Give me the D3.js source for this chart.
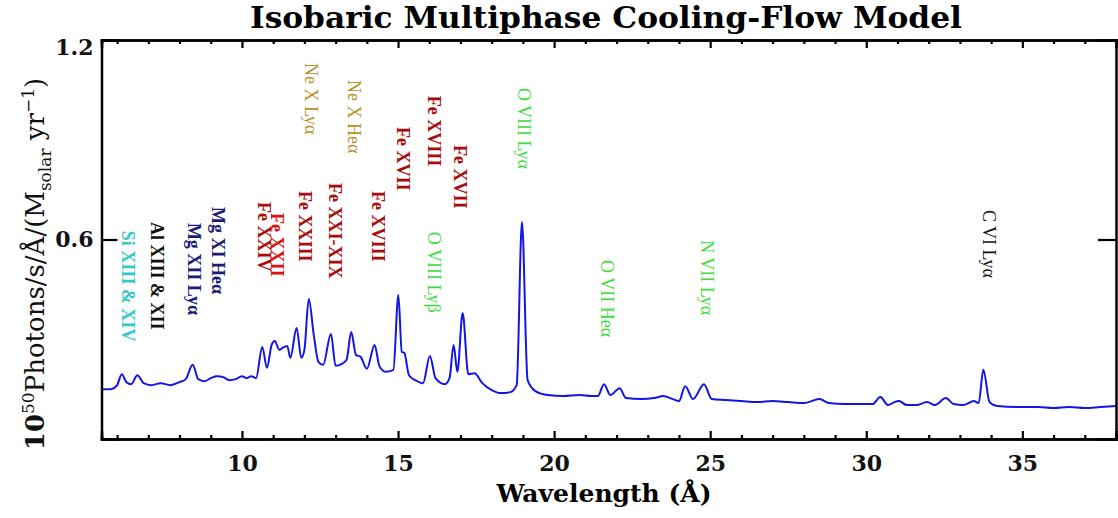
<!DOCTYPE html>
<html>
<head>
<meta charset="utf-8">
<script src="https://cdn.jsdelivr.net/npm/d3@7"></script>
<style>
  html, body { margin: 0; padding: 0; background: #fff; }
  svg { display: block; }
</style>
</head>
<body>
<svg id="chart" width="1118" height="518"></svg>
<script>
// ---------------- DATA ----------------
const wavelength = [5.5,5.8,6.0,6.15,6.3,6.45,6.65,6.85,7.1,7.4,7.7,8.0,8.2,8.42,8.6,8.8,9.0,9.2,9.4,9.6,9.8,10.0,10.15,10.3,10.45,10.65,10.8,10.95,11.05,11.2,11.3,11.45,11.55,11.75,11.9,12.0,12.14,12.3,12.45,12.6,12.85,13.0,13.2,13.35,13.5,13.65,13.8,14.0,14.25,14.4,14.6,14.85,15.01,15.12,15.2,15.35,15.55,15.8,16.02,16.2,16.5,16.65,16.78,16.9,17.07,17.25,17.45,17.7,18.0,18.3,18.6,18.8,18.97,19.15,19.4,19.8,20.3,20.8,21.2,21.4,21.6,21.8,22.1,22.3,22.8,23.2,23.5,23.8,24.0,24.2,24.45,24.8,25.05,25.5,26.0,26.5,27.0,27.5,28.0,28.5,28.8,29.3,29.8,30.2,30.45,30.7,30.9,31.05,31.3,31.6,31.95,32.2,32.55,32.8,33.1,33.45,33.6,33.75,33.95,34.2,34.8,35.5,36.0,36.5,37.0,37.5,38.0];
const photons = [0.150,0.150,0.162,0.195,0.171,0.165,0.192,0.168,0.162,0.168,0.162,0.171,0.180,0.223,0.180,0.174,0.183,0.189,0.186,0.177,0.180,0.189,0.183,0.189,0.183,0.277,0.214,0.283,0.295,0.268,0.274,0.280,0.244,0.334,0.244,0.268,0.421,0.313,0.232,0.223,0.316,0.220,0.226,0.238,0.322,0.253,0.247,0.211,0.283,0.220,0.202,0.208,0.433,0.262,0.259,0.192,0.177,0.168,0.250,0.183,0.165,0.183,0.283,0.202,0.379,0.195,0.198,0.168,0.147,0.138,0.141,0.162,0.653,0.177,0.144,0.132,0.129,0.132,0.129,0.129,0.165,0.132,0.153,0.123,0.120,0.123,0.129,0.120,0.114,0.159,0.120,0.165,0.120,0.117,0.114,0.111,0.114,0.111,0.108,0.120,0.108,0.105,0.105,0.105,0.126,0.102,0.111,0.114,0.102,0.102,0.111,0.102,0.123,0.105,0.102,0.114,0.108,0.208,0.111,0.099,0.096,0.096,0.093,0.096,0.093,0.096,0.099];

const xTickValues = [10, 15, 20, 25, 30, 35];
const yTickValues = [0.6, 1.2];
const yTickLabels = ["0.6", "1.2"];

const lineNames = ["Si XIII & XIV","Al XIII & XII","Mg XII Lyα","Mg XI Heα","Fe XXIV","Fe XXII","Fe XXIII","Fe XXI-XIX","Fe XVIII","Ne X Lyα","Ne X Heα","Fe XVII","Fe XVIII","Fe XVII","O VIII Lyβ","O VIII Lyα","O VII Heα","N VII Lyα","C VI Lyα"];
const lineWavelengths = [6.35,7.28,8.46,9.23,10.70,11.11,12.01,12.97,14.35,12.20,13.58,15.15,16.14,17.00,16.14,19.02,21.70,24.90,33.92];
const lineLabelTops = [0.626,0.653,0.650,0.698,0.713,0.680,0.746,0.770,0.746,1.131,1.080,0.938,1.032,0.884,0.623,1.056,0.538,0.598,0.689];
const lineGroups = ["Si","Al","Mg","Mg","Fe","FeB","Fe","Fe","Fe","Ne","Ne","Fe","Fe","Fe","O","O","O","N","C"];

// ---------------- STYLE ----------------
const groupColor = { Si: "#35c8c8", Al: "#111111", Mg: "#1c1c78", Fe: "#a80c0c", FeB: "#e01010", Ne: "#b3922a", O: "#3ddc3d", N: "#3ddc3d", C: "#111111" };
const groupWeight = { Si: "bold", Al: "bold", Mg: "bold", Fe: "bold", FeB: "bold", Ne: "normal", O: "normal", N: "normal", C: "normal" };

const svg = d3.select("#chart");
const W = 1118, H = 518;
const margin = { left: 101.5, right: W - 1116, top: 40, bottom: H - 439 };

const x = d3.scaleLinear().domain([5.5, 38]).range([margin.left, W - margin.right]);
const y = d3.scaleLinear().domain([0, 1.2]).range([H - margin.bottom, margin.top]);

const serif = "'DejaVu Serif', 'Liberation Serif', serif";
const labelSerif = "'Liberation Serif', 'DejaVu Serif', serif";

// Title
svg.append("text")
  .attr("x", 606).attr("y", 28)
  .attr("text-anchor", "middle")
  .attr("font-family", serif).attr("font-weight", "bold").attr("font-size", 29)
  .attr("textLength", 712).attr("lengthAdjust", "spacingAndGlyphs")
  .text("Isobaric Multiphase Cooling-Flow Model");

// Spectrum
const line = d3.line().x((d, i) => x(wavelength[i])).y(d => y(d)).curve(d3.curveMonotoneX);
svg.append("path")
  .datum(photons)
  .attr("d", line)
  .attr("fill", "none")
  .attr("stroke", "#1414e6")
  .attr("stroke-width", 2)
  .attr("stroke-linejoin", "round");

// Axes (frame + ticks)
const minorX = d3.range(6, 39, 1).filter(v => !xTickValues.includes(v));
const gBottom = svg.append("g").attr("transform", `translate(0,${y(0)})`);
gBottom.call(d3.axisBottom(x).tickValues(xTickValues).tickSize(-8).tickPadding(16).tickFormat(d3.format("d")));
gBottom.append("g").call(d3.axisBottom(x).tickValues(minorX).tickSize(-4).tickFormat(""));
const gTop = svg.append("g").attr("transform", `translate(0,${y(1.2)})`);
gTop.call(d3.axisTop(x).tickValues(xTickValues).tickSize(-8).tickFormat(""));
gTop.append("g").call(d3.axisTop(x).tickValues(minorX).tickSize(-4).tickFormat(""));
const gLeft = svg.append("g").attr("transform", `translate(${x(5.5)},0)`);
gLeft.call(d3.axisLeft(y).tickValues(yTickValues).tickSize(-16).tickPadding(8).tickFormat((d, i) => yTickLabels[i]));
const gRight = svg.append("g").attr("transform", `translate(${x(38)},0)`);
gRight.call(d3.axisRight(y).tickValues([0.6]).tickSize(-18).tickFormat(""));

svg.selectAll(".domain").attr("stroke", "#000").attr("stroke-width", 2.5);
svg.selectAll(".tick line").attr("stroke", "#000").attr("stroke-width", 2.2);
svg.selectAll(".tick text")
  .attr("font-family", serif).attr("font-weight", "bold").attr("font-size", 22).attr("fill", "#111");
gLeft.selectAll(".tick text").filter(d => d === 1.2).attr("dy", "0.65em");

// X axis title
svg.append("text")
  .attr("x", 604).attr("y", 502)
  .attr("text-anchor", "middle")
  .attr("font-family", serif).attr("font-weight", "bold").attr("font-size", 25)
  .text("Wavelength (Å)");

// Y axis title (rich text)
const yt = svg.append("text")
  .attr("transform", `translate(44,264) rotate(-90)`)
  .attr("text-anchor", "middle")
  .attr("font-family", serif).attr("font-size", 26).attr("fill", "#111");
yt.append("tspan").attr("font-weight", "bold").text("10");
yt.append("tspan").attr("font-size", 17).attr("dy", -10).text("50");
yt.append("tspan").attr("dy", 10).text("Photons/s/Å/(M");
yt.append("tspan").attr("font-size", 17).attr("dy", 7).text("solar");
yt.append("tspan").attr("dy", -7).text(" yr");
yt.append("tspan").attr("font-size", 17).attr("dy", -10).text("−1");
yt.append("tspan").attr("dy", 10).text(")");

// Line labels
svg.append("g").selectAll("text")
  .data(lineNames)
  .join("text")
  .attr("transform", (d, i) => `translate(${x(lineWavelengths[i])},${y(lineLabelTops[i])}) rotate(90)`)
  .attr("dominant-baseline", "central")
  .attr("font-family", labelSerif)
  .attr("font-size", 18)
  .attr("font-weight", (d, i) => groupWeight[lineGroups[i]])
  .attr("fill", (d, i) => groupColor[lineGroups[i]])
  .text(d => d);
</script>
</body>
</html>
